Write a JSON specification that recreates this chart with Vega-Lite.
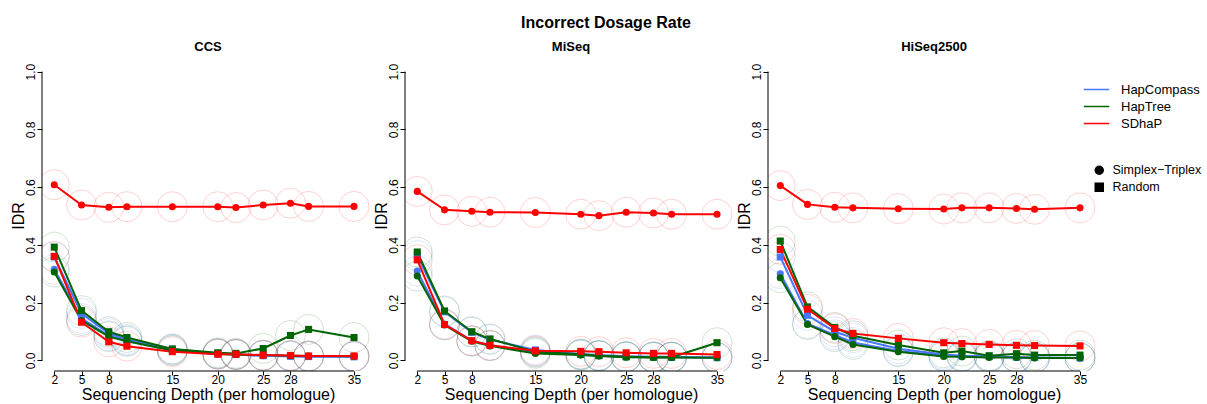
{
  "$schema": "https://vega.github.io/schema/vega-lite/v6.json",
  "autosize": {"type": "pad"},
  "padding": {"left": 10, "top": 15, "right": 2, "bottom": 4},
  "background": "white",
  "title": {"text": "Incorrect Dosage Rate", "font": "Liberation Sans", "fontSize": 16, "fontWeight": "bold", "color": "black", "anchor": "middle", "offset": 10},
  "data": {"values": [
    {"p": "CCS", "m": "HapCompass", "d": "Simplex−Triplex", "x": [2,5,8,10,15,20,22,25,28,30,35], "y": [0.315,0.145,0.085,0.068,0.035,0.022,0.020,0.016,0.014,0.013,0.013]},
    {"p": "CCS", "m": "HapCompass", "d": "Random", "x": [2,5,8,10,15,20,22,25,28,30,35], "y": [0.358,0.162,0.093,0.072,0.039,0.024,0.020,0.016,0.014,0.013,0.012]},
    {"p": "CCS", "m": "HapTree", "d": "Simplex−Triplex", "x": [2,5,8,10,15,20,22,25,28,30,35], "y": [0.306,0.138,0.082,0.066,0.034,0.022,0.020,0.018,0.016,0.015,0.014]},
    {"p": "CCS", "m": "HapTree", "d": "Random", "x": [2,5,8,10,15,20,22,25,28,30,35], "y": [0.392,0.172,0.099,0.079,0.039,0.026,0.024,0.041,0.086,0.107,0.079]},
    {"p": "CCS", "m": "SDhaP", "d": "Simplex−Triplex", "x": [2,5,8,10,15,20,22,25,28,30,35], "y": [0.608,0.538,0.530,0.532,0.532,0.532,0.529,0.538,0.544,0.533,0.533]},
    {"p": "CCS", "m": "SDhaP", "d": "Random", "x": [2,5,8,10,15,20,22,25,28,30,35], "y": [0.360,0.132,0.064,0.049,0.030,0.021,0.021,0.018,0.017,0.015,0.015]},
    {"p": "MiSeq", "m": "HapCompass", "d": "Simplex−Triplex", "x": [2,5,8,10,15,20,22,25,28,30,35], "y": [0.309,0.126,0.068,0.052,0.028,0.019,0.016,0.012,0.011,0.011,0.010]},
    {"p": "MiSeq", "m": "HapCompass", "d": "Random", "x": [2,5,8,10,15,20,22,25,28,30,35], "y": [0.363,0.168,0.097,0.072,0.036,0.022,0.018,0.014,0.012,0.012,0.009]},
    {"p": "MiSeq", "m": "HapTree", "d": "Simplex−Triplex", "x": [2,5,8,10,15,20,22,25,28,30,35], "y": [0.292,0.122,0.066,0.050,0.024,0.018,0.015,0.011,0.010,0.010,0.009]},
    {"p": "MiSeq", "m": "HapTree", "d": "Random", "x": [2,5,8,10,15,20,22,25,28,30,35], "y": [0.375,0.171,0.099,0.074,0.030,0.021,0.016,0.012,0.011,0.011,0.061]},
    {"p": "MiSeq", "m": "SDhaP", "d": "Simplex−Triplex", "x": [2,5,8,10,15,20,22,25,28,30,35], "y": [0.585,0.521,0.516,0.513,0.512,0.506,0.501,0.513,0.510,0.506,0.506]},
    {"p": "MiSeq", "m": "SDhaP", "d": "Random", "x": [2,5,8,10,15,20,22,25,28,30,35], "y": [0.348,0.124,0.068,0.052,0.033,0.031,0.030,0.026,0.024,0.024,0.020]},
    {"p": "HiSeq2500", "m": "HapCompass", "d": "Simplex−Triplex", "x": [2,5,8,10,15,20,22,25,28,30,35], "y": [0.300,0.127,0.088,0.062,0.032,0.016,0.014,0.012,0.010,0.009,0.008]},
    {"p": "HiSeq2500", "m": "HapCompass", "d": "Random", "x": [2,5,8,10,15,20,22,25,28,30,35], "y": [0.358,0.156,0.099,0.078,0.040,0.020,0.016,0.013,0.011,0.010,0.008]},
    {"p": "HiSeq2500", "m": "HapTree", "d": "Simplex−Triplex", "x": [2,5,8,10,15,20,22,25,28,30,35], "y": [0.286,0.124,0.082,0.055,0.030,0.013,0.012,0.010,0.010,0.008,0.008]},
    {"p": "HiSeq2500", "m": "HapTree", "d": "Random", "x": [2,5,8,10,15,20,22,25,28,30,35], "y": [0.413,0.185,0.114,0.085,0.053,0.026,0.032,0.016,0.023,0.018,0.018]},
    {"p": "HiSeq2500", "m": "SDhaP", "d": "Simplex−Triplex", "x": [2,5,8,10,15,20,22,25,28,30,35], "y": [0.605,0.540,0.530,0.528,0.525,0.524,0.528,0.528,0.526,0.523,0.528]},
    {"p": "HiSeq2500", "m": "SDhaP", "d": "Random", "x": [2,5,8,10,15,20,22,25,28,30,35], "y": [0.384,0.177,0.110,0.093,0.076,0.061,0.058,0.055,0.052,0.051,0.050]}
  ]},
  "transform": [{"flatten": ["x", "y"]}],
  "spacing": -1,
  "resolve": {"scale": {"color": "shared", "shape": "shared"}},
  "hconcat": [
    {
      "width": 332, "height": 311,
      "title": {"text": "CCS"},
      "transform": [{"filter": "datum.p == 'CCS'"}],
      "layer": [
        {"mark": {"type": "point", "shape": "circle", "filled": false, "size": 900, "strokeWidth": 0.5, "opacity": 0.35, "clip": true},
         "encoding": {
           "x": {"field": "x", "type": "quantitative", "scale": {"domain": [0.65, 37.2], "nice": false, "zero": false}, "axis": {"values": [2,5,8,15,20,25,28,35], "title": "Sequencing Depth (per homologue)"}},
           "y": {"field": "y", "type": "quantitative", "scale": {"domain": [-0.037, 1.04], "nice": false, "zero": false}, "axis": {"values": [0,0.2,0.4,0.6,0.8,1], "format": ".1f", "title": "IDR", "labelAngle": -90}},
           "color": {"field": "m", "type": "nominal", "scale": {"domain": ["HapCompass","HapTree","SDhaP"], "range": ["#4876FF","#006400","#FF0000"]}, "legend": {"orient": "none", "legendX": 1045, "legendY": 20, "title": null, "symbolType": "M-1.5,0H1.5", "symbolSize": 289, "symbolStrokeWidth": 1.5, "symbolOpacity": 1, "rowPadding": 0, "labelOffset": 15}}
         }},
        {"mark": {"type": "line", "strokeWidth": 2, "clip": true},
         "encoding": {
           "x": {"field": "x", "type": "quantitative"},
           "y": {"field": "y", "type": "quantitative"},
           "color": {"field": "m", "type": "nominal", "legend": {"orient": "none", "legendX": 1045, "legendY": 20, "title": null, "symbolType": "M-1.5,0H1.5", "symbolSize": 289, "symbolStrokeWidth": 1.5, "symbolOpacity": 1, "rowPadding": 0, "labelOffset": 15}},
           "detail": {"field": "d"}
         }},
        {"mark": {"type": "point", "filled": true, "size": 50, "opacity": 1, "clip": true},
         "encoding": {
           "x": {"field": "x", "type": "quantitative"},
           "y": {"field": "y", "type": "quantitative"},
           "color": {"field": "m", "type": "nominal", "legend": {"orient": "none", "legendX": 1045, "legendY": 20, "title": null, "symbolType": "M-1.5,0H1.5", "symbolSize": 289, "symbolStrokeWidth": 1.5, "symbolOpacity": 1, "rowPadding": 0, "labelOffset": 15}},
           "shape": {"field": "d", "type": "nominal", "scale": {"domain": ["Simplex−Triplex","Random"], "range": ["circle","square"]}, "legend": {"orient": "none", "legendX": 1051, "legendY": 104, "title": null, "symbolFillColor": "black", "symbolStrokeColor": "black", "symbolOpacity": 1, "symbolSize": 64, "rowPadding": 2, "labelOffset": 7, "labelFontSize": 12.5}}
         }},
        {"data": {"values": [{}]}, "mark": {"type": "rule", "color": "black", "strokeWidth": 1},
         "encoding": {"x": {"datum": 2, "type": "quantitative"}, "x2": {"datum": 35}, "y": {"datum": -0.037, "type": "quantitative"}}},
        {"data": {"values": [{}]}, "mark": {"type": "rule", "color": "black", "strokeWidth": 1},
         "encoding": {"x": {"datum": 0.65, "type": "quantitative"}, "y": {"datum": 0, "type": "quantitative"}, "y2": {"datum": 1}}}
      ]
    },
    {
      "width": 332, "height": 311,
      "title": {"text": "MiSeq"},
      "transform": [{"filter": "datum.p == 'MiSeq'"}],
      "layer": [
        {"mark": {"type": "point", "shape": "circle", "filled": false, "size": 900, "strokeWidth": 0.5, "opacity": 0.35, "clip": true},
         "encoding": {
           "x": {"field": "x", "type": "quantitative", "scale": {"domain": [0.65, 37.2], "nice": false, "zero": false}, "axis": {"values": [2,5,8,15,20,25,28,35], "title": "Sequencing Depth (per homologue)"}},
           "y": {"field": "y", "type": "quantitative", "scale": {"domain": [-0.037, 1.04], "nice": false, "zero": false}, "axis": {"values": [0,0.2,0.4,0.6,0.8,1], "format": ".1f", "title": "IDR", "labelAngle": -90}},
           "color": {"field": "m", "type": "nominal", "legend": {"orient": "none", "legendX": 1045, "legendY": 20, "title": null, "symbolType": "M-1.5,0H1.5", "symbolSize": 289, "symbolStrokeWidth": 1.5, "symbolOpacity": 1, "rowPadding": 0, "labelOffset": 15}}
         }},
        {"mark": {"type": "line", "strokeWidth": 2, "clip": true},
         "encoding": {
           "x": {"field": "x", "type": "quantitative"},
           "y": {"field": "y", "type": "quantitative"},
           "color": {"field": "m", "type": "nominal", "legend": {"orient": "none", "legendX": 1045, "legendY": 20, "title": null, "symbolType": "M-1.5,0H1.5", "symbolSize": 289, "symbolStrokeWidth": 1.5, "symbolOpacity": 1, "rowPadding": 0, "labelOffset": 15}},
           "detail": {"field": "d"}
         }},
        {"mark": {"type": "point", "filled": true, "size": 50, "opacity": 1, "clip": true},
         "encoding": {
           "x": {"field": "x", "type": "quantitative"},
           "y": {"field": "y", "type": "quantitative"},
           "color": {"field": "m", "type": "nominal", "legend": {"orient": "none", "legendX": 1045, "legendY": 20, "title": null, "symbolType": "M-1.5,0H1.5", "symbolSize": 289, "symbolStrokeWidth": 1.5, "symbolOpacity": 1, "rowPadding": 0, "labelOffset": 15}},
           "shape": {"field": "d", "type": "nominal", "legend": {"orient": "none", "legendX": 1051, "legendY": 104, "title": null, "symbolFillColor": "black", "symbolStrokeColor": "black", "symbolOpacity": 1, "symbolSize": 64, "rowPadding": 2, "labelOffset": 7, "labelFontSize": 12.5}}
         }},
        {"data": {"values": [{}]}, "mark": {"type": "rule", "color": "black", "strokeWidth": 1},
         "encoding": {"x": {"datum": 2, "type": "quantitative"}, "x2": {"datum": 35}, "y": {"datum": -0.037, "type": "quantitative"}}},
        {"data": {"values": [{}]}, "mark": {"type": "rule", "color": "black", "strokeWidth": 1},
         "encoding": {"x": {"datum": 0.65, "type": "quantitative"}, "y": {"datum": 0, "type": "quantitative"}, "y2": {"datum": 1}}}
      ]
    },
    {
      "width": 332, "height": 311,
      "title": {"text": "HiSeq2500"},
      "transform": [{"filter": "datum.p == 'HiSeq2500'"}],
      "layer": [
        {"mark": {"type": "point", "shape": "circle", "filled": false, "size": 900, "strokeWidth": 0.5, "opacity": 0.35, "clip": true},
         "encoding": {
           "x": {"field": "x", "type": "quantitative", "scale": {"domain": [0.65, 37.2], "nice": false, "zero": false}, "axis": {"values": [2,5,8,15,20,25,28,35], "title": "Sequencing Depth (per homologue)"}},
           "y": {"field": "y", "type": "quantitative", "scale": {"domain": [-0.037, 1.04], "nice": false, "zero": false}, "axis": {"values": [0,0.2,0.4,0.6,0.8,1], "format": ".1f", "title": "IDR", "labelAngle": -90}},
           "color": {"field": "m", "type": "nominal", "legend": {"orient": "none", "legendX": 1045, "legendY": 20, "title": null, "symbolType": "M-1.5,0H1.5", "symbolSize": 289, "symbolStrokeWidth": 1.5, "symbolOpacity": 1, "rowPadding": 0, "labelOffset": 15}}
         }},
        {"mark": {"type": "line", "strokeWidth": 2, "clip": true},
         "encoding": {
           "x": {"field": "x", "type": "quantitative"},
           "y": {"field": "y", "type": "quantitative"},
           "color": {"field": "m", "type": "nominal", "legend": {"orient": "none", "legendX": 1045, "legendY": 20, "title": null, "symbolType": "M-1.5,0H1.5", "symbolSize": 289, "symbolStrokeWidth": 1.5, "symbolOpacity": 1, "rowPadding": 0, "labelOffset": 15}},
           "detail": {"field": "d"}
         }},
        {"mark": {"type": "point", "filled": true, "size": 50, "opacity": 1, "clip": true},
         "encoding": {
           "x": {"field": "x", "type": "quantitative"},
           "y": {"field": "y", "type": "quantitative"},
           "color": {"field": "m", "type": "nominal", "legend": {"orient": "none", "legendX": 1045, "legendY": 20, "title": null, "symbolType": "M-1.5,0H1.5", "symbolSize": 289, "symbolStrokeWidth": 1.5, "symbolOpacity": 1, "rowPadding": 0, "labelOffset": 15}},
           "shape": {"field": "d", "type": "nominal", "legend": {"orient": "none", "legendX": 1051, "legendY": 104, "title": null, "symbolFillColor": "black", "symbolStrokeColor": "black", "symbolOpacity": 1, "symbolSize": 64, "rowPadding": 2, "labelOffset": 7, "labelFontSize": 12.5}}
         }},
        {"data": {"values": [{}]}, "mark": {"type": "rule", "color": "black", "strokeWidth": 1},
         "encoding": {"x": {"datum": 2, "type": "quantitative"}, "x2": {"datum": 35}, "y": {"datum": -0.037, "type": "quantitative"}}},
        {"data": {"values": [{}]}, "mark": {"type": "rule", "color": "black", "strokeWidth": 1},
         "encoding": {"x": {"datum": 0.65, "type": "quantitative"}, "y": {"datum": 0, "type": "quantitative"}, "y2": {"datum": 1}}}
      ]
    }
  ],
  "config": {
    "view": {"stroke": null},
    "font": "Liberation Sans",
    "axis": {"domain": false, "grid": false, "tickColor": "black", "labelColor": "black", "labelFont": "Liberation Sans", "labelFontSize": 12, "titleFont": "Liberation Sans", "titleFontSize": 16, "titleFontWeight": "normal", "titleColor": "black"},
    "axisX": {"tickSize": 4, "labelPadding": -1, "titlePadding": 1},
    "axisY": {"tickSize": 5, "labelPadding": 0, "titlePadding": -2},
    "title": {"font": "Liberation Sans", "fontSize": 13, "fontWeight": "bold", "color": "black", "offset": 6},
    "legend": {"labelFont": "Liberation Sans", "labelFontSize": 13, "labelColor": "black"}
  }
}
